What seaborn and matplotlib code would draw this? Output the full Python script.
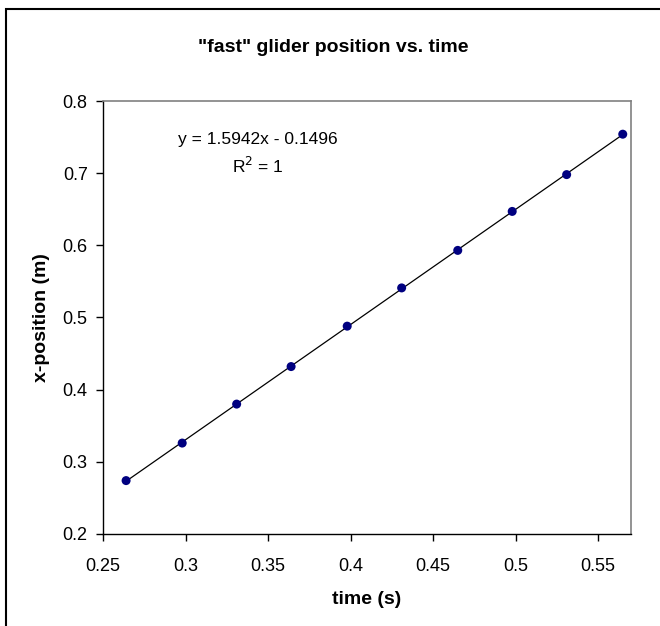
import numpy as np
import pandas as pd
import seaborn as sns
import matplotlib.pyplot as plt
from matplotlib.patches import Rectangle

# data
time_s = [0.264, 0.298, 0.331, 0.364, 0.398, 0.431, 0.465, 0.498, 0.531, 0.565]
x_pos_m = [0.274, 0.326, 0.380, 0.432, 0.488, 0.541, 0.593, 0.647, 0.698, 0.754]
x_ticks = [0.25, 0.3, 0.35, 0.4, 0.45, 0.5, 0.55]
y_ticks = [0.2, 0.3, 0.4, 0.5, 0.6, 0.7, 0.8]
fit_label = "y = 1.5942x - 0.1496"

df = pd.DataFrame({"time": time_s, "pos": x_pos_m})

sns.set_theme(style="white")
plt.rcParams["font.family"] = ["Liberation Sans", "DejaVu Sans"]
plt.rcParams["text.color"] = "black"
plt.rcParams["axes.labelcolor"] = "black"

fig = plt.figure(figsize=(6.6, 6.26), dpi=100)
ax = fig.add_axes([103 / 660, 92 / 626, 528 / 660, 433 / 626])

# linear trendline, then the markers on top
sns.regplot(data=df, x="time", y="pos", ax=ax, scatter=False, ci=None,
            truncate=True, color="black", line_kws={"lw": 0.9})
sns.scatterplot(data=df, x="time", y="pos", ax=ax, color="#000080",
                s=42, edgecolor="none", zorder=3)

ax.set_xlim(0.25, 0.57)
ax.set_ylim(0.2, 0.8)
ax.set_xticks(x_ticks)
ax.set_yticks(y_ticks)
ax.set_xticklabels([f"{v:g}" for v in x_ticks])
ax.set_yticklabels([f"{v:g}" for v in y_ticks])
ax.tick_params(axis="both", direction="out", length=5, width=1, color="black",
               labelsize=13, labelcolor="black")
ax.tick_params(axis="x", pad=12)
ax.tick_params(axis="y", pad=6)
ax.xaxis.set_ticks_position("bottom")
ax.yaxis.set_ticks_position("left")

for side in ["left", "bottom"]:
    ax.spines[side].set_color("black")
    ax.spines[side].set_linewidth(1)
for side in ["top", "right"]:
    ax.spines[side].set_color("#808080")
    ax.spines[side].set_linewidth(1.2)

ax.set_xlabel("time (s)", fontsize=14, fontweight="bold", labelpad=12)
ax.set_ylabel("x-position (m)", fontsize=14, fontweight="bold", labelpad=9)
fig.text(0.505, 1 - 48 / 626, '"fast" glider position vs. time', ha="center",
         va="center", fontsize=14, fontweight="bold")

# trendline equation
ax.text(258 / 660, 1 - 139 / 626, fit_label, transform=fig.transFigure,
        ha="center", va="center", fontsize=12.5)
ax.text(258 / 660, 1 - 166 / 626, r"R$^2$ = 1", transform=fig.transFigure,
        ha="center", va="center", fontsize=12.5)

# chart border
fig.patches.append(Rectangle((6 / 660, -0.1), 1.2, 1 - 9 / 626 + 0.1,
                             transform=fig.transFigure, fill=False,
                             edgecolor="black", lw=1.5))

fig.savefig("out.png", dpi=100)
